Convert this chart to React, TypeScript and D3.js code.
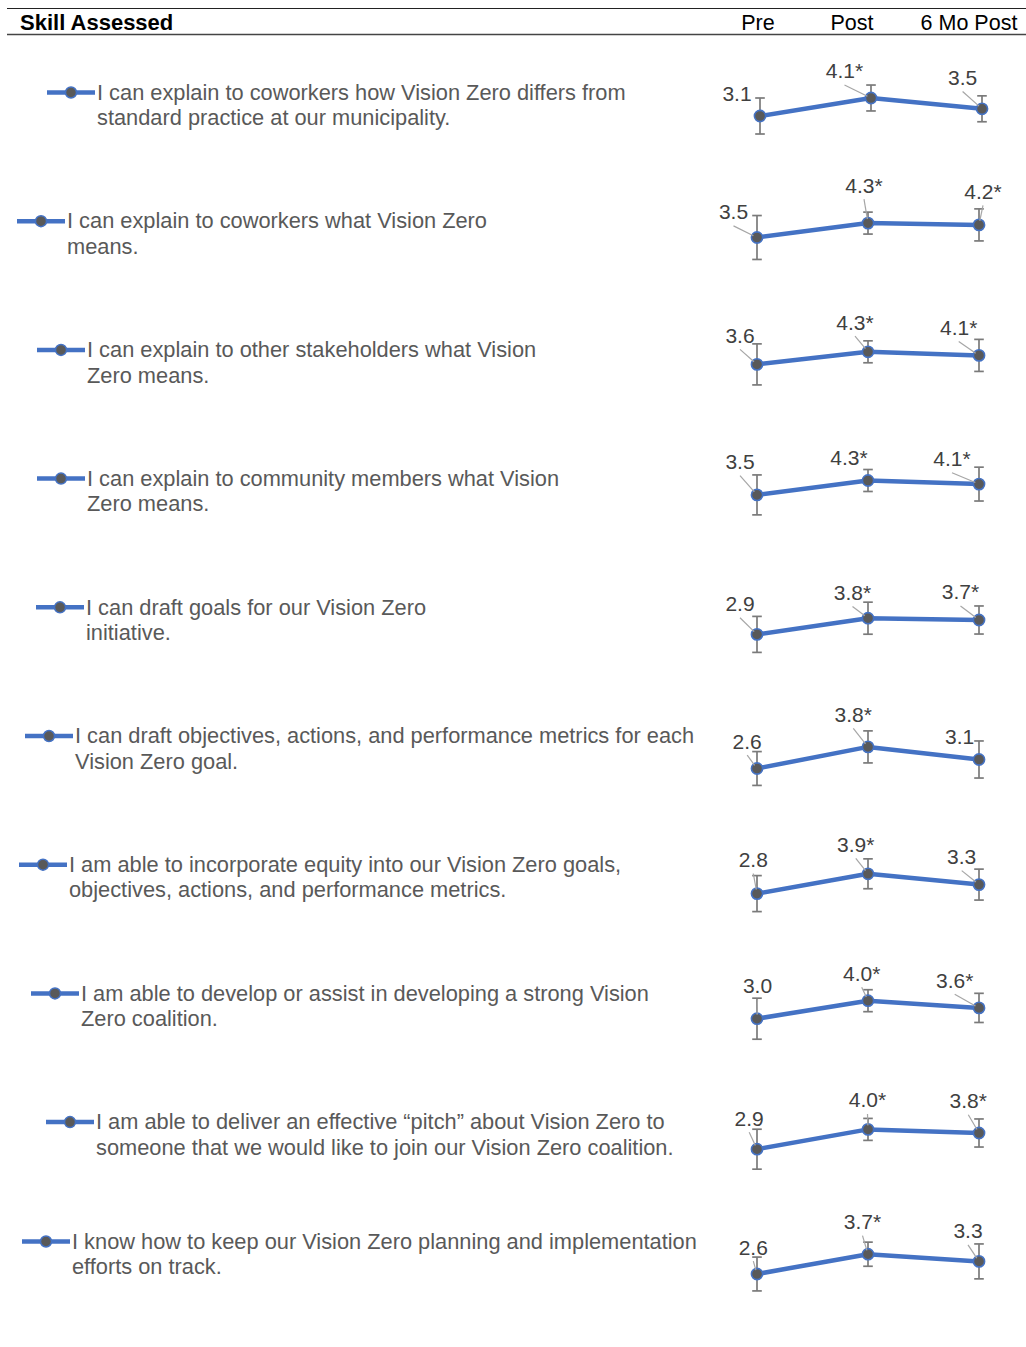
import React from "react";
import * as d3 from "d3";

// ---- Data -------------------------------------------------------------
const periods = ["Pre", "Post", "6 Mo Post"];

const skillLines: string[][] = [
  ["I can explain to coworkers how Vision Zero differs from", "standard practice at our municipality."],
  ["I can explain to coworkers what Vision Zero", "means."],
  ["I can explain to other stakeholders what Vision", "Zero means."],
  ["I can explain to community members what Vision", "Zero means."],
  ["I can draft goals for our Vision Zero", "initiative."],
  ["I can draft objectives, actions, and performance metrics for each", "Vision Zero goal."],
  ["I am able to incorporate equity into our Vision Zero goals,", "objectives, actions, and performance metrics."],
  ["I am able to develop or assist in developing a strong Vision", "Zero coalition."],
  ["I am able to deliver an effective \u201Cpitch\u201D about Vision Zero to", "someone that we would like to join our Vision Zero coalition."],
  ["I know how to keep our Vision Zero planning and implementation", "efforts on track."],
];

const preMeans = [3.1, 3.5, 3.6, 3.5, 2.9, 2.6, 2.8, 3.0, 2.9, 2.6];
const postMeans = [4.1, 4.3, 4.3, 4.3, 3.8, 3.8, 3.9, 4.0, 4.0, 3.7];
const sixMoMeans = [3.5, 4.2, 4.1, 4.1, 3.7, 3.1, 3.3, 3.6, 3.8, 3.3];

const preErr = [1.0, 1.22, 1.14, 1.11, 1.0, 0.94, 1.0, 1.14, 1.11, 0.94];
const postErr = [0.72, 0.61, 0.61, 0.61, 0.89, 0.89, 0.83, 0.61, 0.61, 0.67];
const sixMoErr = [0.72, 0.89, 0.89, 0.94, 0.78, 1.03, 0.86, 0.81, 0.78, 0.97];

const postSignificant = [true, true, true, true, true, true, true, true, true, true];
const sixMoSignificant = [false, true, true, true, true, false, false, true, true, false];

// ---- Layout -----------------------------------------------------------
const W = 1026;
const H = 1347;
const ROW0 = 171.8;
const ROW_STEP = 128.7;
const rowNudge = [0, 0, 0, 0, 0, 0, 0, 0, 0, -9.3];
const rowShiftX = [3, 0, 0, 0, 0, 0, 0, 0, 0, 0];
const legendLeft = [47, 17, 37, 37, 36, 25, 19, 31, 46, 22];
const headerX = [758, 852, 969];

// label centre offsets from each point, [pre, post, 6 mo]
const labelOffsets: [number, number][][] = [
  [[-23, -22.5], [-26.5, -27], [-19.4, -31.3]],
  [[-23.5, -25.6], [-4, -38], [4, -33.5]],
  [[-17, -29], [-13, -29.6], [-20.3, -27.8]],
  [[-17, -33.3], [-19, -23.3], [-27, -25.4]],
  [[-17, -30.7], [-15.5, -25.7], [-18.5, -28]],
  [[-9.8, -27.3], [-14.7, -32.5], [-19.3, -23]],
  [[-3.7, -34.1], [-12.2, -29.5], [-17.3, -28]],
  [[0.5, -33.2], [-6.3, -27.5], [-24.3, -27.6]],
  [[-7.8, -31], [-0.5, -29.5], [-10.7, -32.3]],
  [[-3.7, -26.8], [-5.5, -32.5], [-11, -30.6]],
];
const hiddenLeaders = new Set(["0-0", "3-1", "5-2"]);

const FONT = "'Liberation Sans', Arial, Helvetica, sans-serif";
const BLUE = "#4472C4";
const MARKER = "#595959";
const ERR = "#7a7a7a";
const LEADER = "#a6a6a6";
const LEGEND_TEXT = "#595959";
const LABEL_TEXT = "#404040";

const x = d3.scalePoint<string>().domain(periods).range([757, 979]);
const yOff = d3.scaleLinear().domain([0, 5]).range([0, -90]);

function rowBase(i: number) {
  return ROW0 + i * ROW_STEP + rowNudge[i];
}

function SkillRow({ i }: { i: number }) {
  const base = rowBase(i);
  const means = [preMeans[i], postMeans[i], sixMoMeans[i]];
  const errs = [preErr[i], postErr[i], sixMoErr[i]];
  const sig = [false, postSignificant[i], sixMoSignificant[i]];
  const pts = periods.map((p, k) => ({
    p,
    k,
    v: means[k],
    e: errs[k],
    cx: (x(p) as number) + rowShiftX[i],
    cy: base + yOff(means[k]),
  }));
  const line = d3
    .line<{ cx: number; cy: number }>()
    .x((d) => d.cx)
    .y((d) => d.cy);

  const lgX = legendLeft[i];
  const lgY = base - 79.3;

  return (
    <g>
      {/* legend entry with the skill statement */}
      <line x1={lgX} x2={lgX + 48} y1={lgY} y2={lgY} stroke={BLUE} strokeWidth={4.5} />
      <circle cx={lgX + 24} cy={lgY} r={5.5} fill={MARKER} stroke={BLUE} strokeWidth={1.5} />
      <text x={lgX + 50} y={lgY + 7.2} fontFamily={FONT} fontSize={21.8} fill={LEGEND_TEXT}>
        {skillLines[i].map((s, j) => (
          <tspan key={j} x={lgX + 50} dy={j === 0 ? 0 : 25.5}>
            {s}
          </tspan>
        ))}
      </text>

      {/* error bars */}
      {pts.map((d) => {
        const top = base + yOff(d.v + d.e);
        const bot = base + yOff(d.v - d.e);
        return (
          <g key={"e" + d.k} stroke={ERR} strokeWidth={1.7}>
            <line x1={d.cx} x2={d.cx} y1={top} y2={bot} />
            <line x1={d.cx - 4.8} x2={d.cx + 4.8} y1={top} y2={top} />
            <line x1={d.cx - 4.8} x2={d.cx + 4.8} y1={bot} y2={bot} />
          </g>
        );
      })}

      {/* series line */}
      <path d={line(pts) || ""} fill="none" stroke={BLUE} strokeWidth={4.5} strokeLinejoin="round" />

      {/* markers */}
      {pts.map((d) => (
        <circle key={"c" + d.k} cx={d.cx} cy={d.cy} r={5.6} fill={MARKER} stroke={BLUE} strokeWidth={1.6} />
      ))}

      {/* leader lines and value labels */}
      {pts.map((d) => {
        const [dx, dy] = labelOffsets[i][d.k];
        const lx = d.cx + dx;
        const ly = d.cy + dy;
        const sx = lx;
        const sy = ly + 14;
        const vx = d.cx - sx;
        const vy = d.cy - sy;
        const len = Math.hypot(vx, vy);
        const showLeader = !hiddenLeaders.has(`${i}-${d.k}`) && len > 6;
        const ex = d.cx - (vx / len) * 4;
        const ey = d.cy - (vy / len) * 4;
        return (
          <g key={"l" + d.k}>
            {showLeader && (
              <line x1={sx} y1={sy} x2={ex} y2={ey} stroke={LEADER} strokeWidth={1.2} />
            )}
            <text
              x={lx}
              y={ly + 7.4}
              textAnchor="middle"
              fontFamily={FONT}
              fontSize={21}
              fill={LABEL_TEXT}
            >
              {d.v.toFixed(1) + (sig[d.k] ? "*" : "")}
            </text>
          </g>
        );
      })}
    </g>
  );
}

export default function App() {
  return (
    <svg
      width={W}
      height={H}
      viewBox={`0 0 ${W} ${H}`}
      style={{ position: "absolute", left: 0, top: 0, display: "block", background: "#fff" }}
    >
      <rect width={W} height={H} fill="#fff" />
      {/* table header */}
      <line x1={7} x2={W} y1={8.5} y2={8.5} stroke="#222" strokeWidth={1} />
      <line x1={7} x2={W} y1={34.5} y2={34.5} stroke="#444" strokeWidth={1.5} />
      <text x={20} y={29.5} fontFamily={FONT} fontSize={22} fontWeight="bold" fill="#000">
        Skill Assessed
      </text>
      {periods.map((p, k) => (
        <text key={p} x={headerX[k]} y={29.5} textAnchor="middle" fontFamily={FONT} fontSize={21.5} fill="#000">
          {p}
        </text>
      ))}

      {skillLines.map((_, i) => (
        <SkillRow key={i} i={i} />
      ))}
    </svg>
  );
}
